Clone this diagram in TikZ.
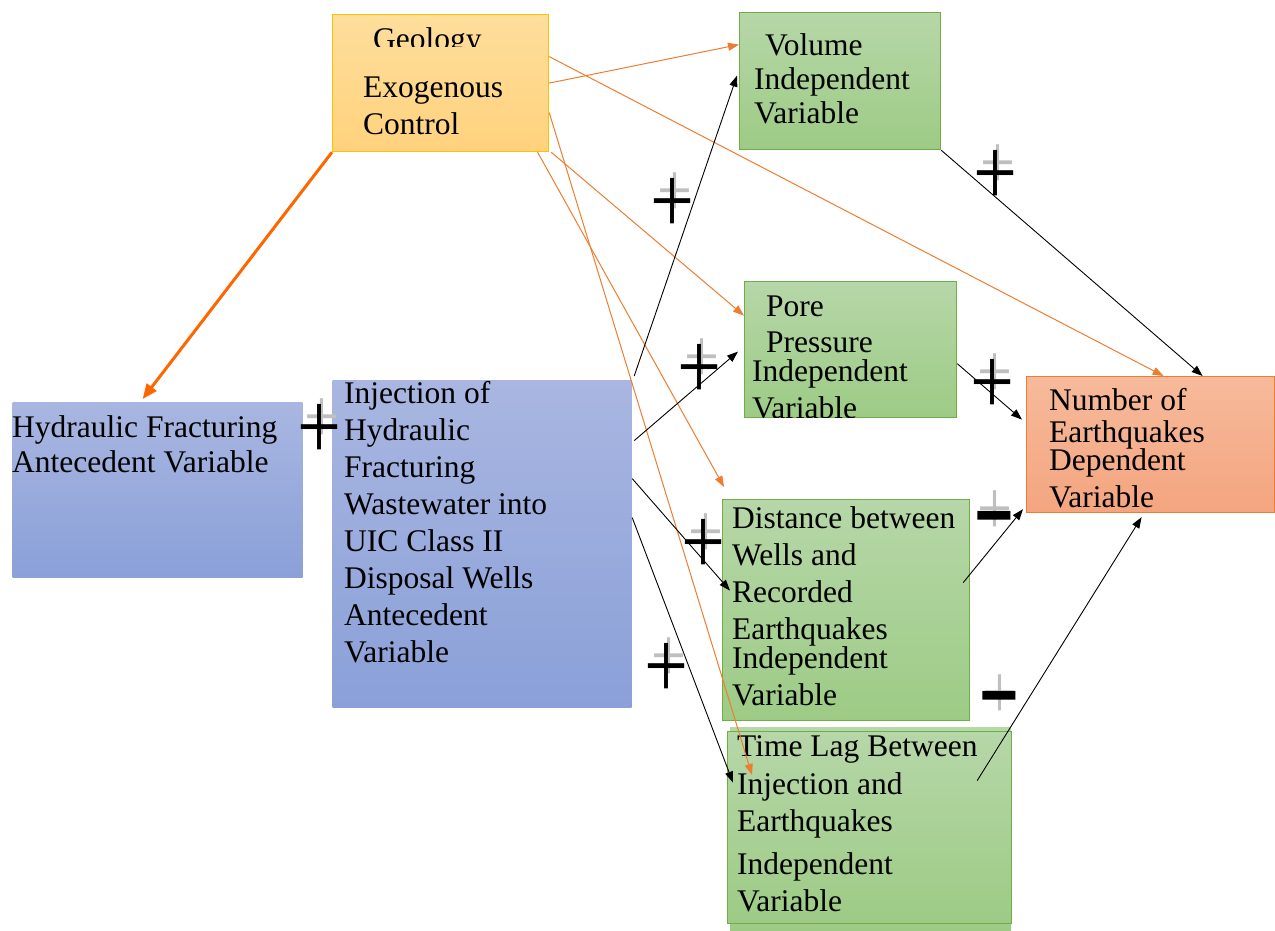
\documentclass[tikz,border=0pt]{standalone}
\usepackage{fontspec}
\setmainfont{Liberation Serif}
\newfontfamily\signfont{Liberation Sans}
\usetikzlibrary{arrows.meta}

\definecolor{geotop}{RGB}{254,222,156}
\definecolor{geobot}{RGB}{255,210,125}
\definecolor{geoline}{RGB}{255,192,0}
\definecolor{grtop}{RGB}{182,215,168}
\definecolor{grbot}{RGB}{157,203,133}
\definecolor{grline}{RGB}{112,173,71}
\definecolor{bltop}{RGB}{169,182,225}
\definecolor{blbot}{RGB}{138,160,216}
\definecolor{numtop}{RGB}{246,186,155}
\definecolor{numbot}{RGB}{244,165,127}
\definecolor{arrorange}{RGB}{237,125,49}
\definecolor{thickorange}{RGB}{255,102,0}

\tikzset{
  box/.style={rectangle, inner sep=0pt, anchor=north west, line width=1.2pt},
  geobox/.style={box, draw=geoline, top color=geotop, bottom color=geobot},
  greenbox/.style={box, draw=grline, top color=grtop, bottom color=grbot},
  greenfill/.style={top color=grtop, bottom color=grbot},
  bluebox/.style={box, top color=bltop, bottom color=blbot},
  numbox/.style={box, draw=arrorange, top color=numtop, bottom color=numbot},
  txt/.style={anchor=north west, inner sep=0pt, align=left, font=\fontsize{31.5}{37}\selectfont},
  orarr/.style={draw=arrorange, line width=1pt},
  thickarr/.style={draw=thickorange, line width=3pt, -{Triangle[length=15pt,width=12pt]}},
  blkarr/.style={draw=black, line width=0.9pt},
  plus/.style={inner sep=0pt, font=\fontsize{78}{78}\selectfont, yscale=1.25},
  plusshade/.style={plus, text=black!25, font=\fontsize{62}{62}\selectfont},
  minus/.style={inner sep=0pt, font=\signfont\fontsize{68}{68}\selectfont, yscale=1.8}
}

\begin{document}
\begin{tikzpicture}[x=1pt, y=-1pt, ->, >={Triangle[length=11pt,width=8pt]}]
\useasboundingbox (0,0) rectangle (1275,931);

% boxes
\node[geobox, minimum width=216pt, minimum height=137pt] (geo) at (332,14) {};
\node[greenbox, minimum width=201pt, minimum height=137pt] (vol) at (739,12) {};
\node[greenbox, minimum width=212pt, minimum height=136pt] (pore) at (744,281) {};
\node[numbox, minimum width=248pt, minimum height=136pt] (num) at (1026,376) {};
\node[bluebox, minimum width=290pt, minimum height=175pt] (hyd) at (12,402) {};
\node[bluebox, minimum width=299pt, minimum height=327pt] (inj) at (332,380) {};
\node[greenbox, minimum width=247pt, minimum height=221pt] (dist) at (722,499) {};
\path[greenfill, -] (730,727) rectangle (1011,931);
\node[greenbox, minimum width=284pt, minimum height=192pt] (lag) at (727,731) {};

% texts
\begin{scope}
  \clip (332,14) rectangle (548,47);
  \node[txt] (geoA) at (373,27.5) {Geology};
\end{scope}
\node[txt] (geoB) at (363,77) {Exogenous\\Control};
\node[txt, font=\fontsize{31.5}{34}\selectfont] (volT) at (754,33.5)
  {\hspace*{11pt}Volume\\Independent\\Variable};
\begin{scope}
  \clip (744,281) rectangle (956,417);
  \node[txt, font=\fontsize{31.5}{36}\selectfont] (poreT) at (752,296)
    {\hspace*{14pt}Pore\\\hspace*{14pt}Pressure\\[-7pt]Independent\\[1pt]Variable};
\end{scope}
\node[txt, font=\fontsize{31.5}{32}\selectfont] (numT) at (1049,388.5)
  {Number of\\Earthquakes\\[-4pt]Dependent\\[5pt]Variable};
\node[txt, font=\fontsize{31.5}{35}\selectfont] (hydT) at (12,415.5)
  {Hydraulic Fracturing\\Antecedent Variable};
\node[txt, font=\fontsize{31.5}{36.9}\selectfont] (injT) at (344,381.5)
  {Injection of\\Hydraulic\\Fracturing\\Wastewater into\\UIC Class II\\Disposal Wells\\Antecedent\\Variable};
\node[txt] (distT) at (732,506.5)
  {Distance between\\Wells and\\Recorded\\Earthquakes\\[-8pt]Independent\\Variable};
\node[txt] (lagT) at (737,735.5)
  {Time Lag Between\\[1pt]Injection and\\Earthquakes\\[6pt]Independent\\Variable};

% links from geology
\path (geo.south west) edge[thickarr] ([shift={(-15pt,3pt)}]hyd.north)
      (geo.east) edge[orarr] ([yshift=36.5pt]vol.west)
      ([yshift=26.5pt]geo.east) edge[orarr] ([xshift=13pt]num.north)
      ([xshift=2pt]geo.south east) edge[orarr] ([yshift=34pt]pore.west)
      ([xshift=97pt]geo.south) edge[orarr] ([shift={(2pt,12pt)}]dist.north west)
      ([yshift=-29.5pt]geo.east) edge[orarr] ([shift={(25pt,-44pt)}]lag.north west);

% links from injection
\path ([shift={(2pt,4pt)}]inj.north east) edge[blkarr] ([shift={(-2pt,5.5pt)}]vol.west)
      ([shift={(2pt,103.5pt)}]inj.east) edge[blkarr] ([shift={(-6pt,-2pt)}]pore.west)
      ([yshift=65.5pt]inj.east) edge[blkarr] ([shift={(8pt,19.5pt)}]dist.west)
      ([yshift=26.5pt]inj.east) edge[blkarr] ([shift={(6pt,45pt)}]lag.west);

% links to earthquakes
\path (vol.south east) edge[blkarr] ([xshift=52pt]num.north)
      ([yshift=-14pt]pore.east) edge[blkarr] ([shift={(-4pt,25pt)}]num.west)
      ([shift={(-7pt,27.5pt)}]dist.east) edge[blkarr] ([shift={(-3pt,4pt)}]num.south west)
      ([shift={(-35pt,47pt)}]lag.east) edge[blkarr] ([shift={(-9pt,-4pt)}]num.south);

% signs
\node[plusshade] (s1g) at (322,421) {+};
\node[plus] (s1) at (319,432) {+};
\node[plusshade] (s2g) at (675,195) {+};
\node[plus] (s2) at (672,206) {+};
\node[plusshade] (s3g) at (998,167) {+};
\node[plus] (s3) at (995,178) {+};
\node[plusshade] (s4g) at (702,361) {+};
\node[plus] (s4) at (699,372) {+};
\node[plusshade] (s5g) at (995,376) {+};
\node[plus] (s5) at (992,387) {+};
\node[plusshade] (s6g) at (706,536) {+};
\node[plus] (s6) at (703,547) {+};
\node[plusshade] (s7g) at (669,660) {+};
\node[plus] (s7) at (666,671) {+};
\node[plusshade] (m1g) at (995,513) {+};
\node[minus] (m1) at (994,534) {−};
\node[plusshade] (m2g) at (1000,697) {+};
\node[minus] (m2) at (999,714) {−};
\end{tikzpicture}
\end{document}
